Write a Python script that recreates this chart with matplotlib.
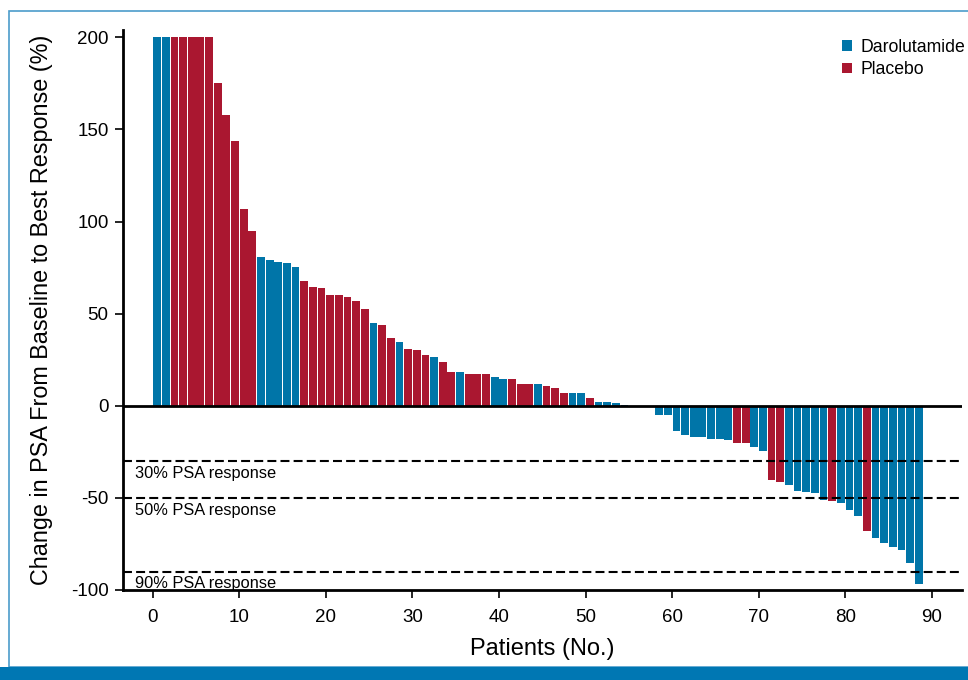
import matplotlib
matplotlib.use("Agg")
import matplotlib.pyplot as plt
from matplotlib.patches import Patch, Rectangle
import numpy as np

# ---- data ----
values = [200, 200, 200, 200, 200, 200, 200, 175.4, 158, 144, 107, 94.7,
          81, 79, 78, 77.3, 75.2, 68, 64.3, 63.8, 60, 60, 58.9, 56.7, 52.4,
          44.8, 43.7, 36.6, 34.4, 31.1, 30.5, 27.8, 26.7, 24, 18.6, 18.1,
          17, 17, 17, 15.9, 14.8, 14.3, 12.1, 12.1, 11.6, 10.5, 9.9, 7.2,
          6.7, 6.7, 4.0, 1.8, 1.8, 1.3, 0.7, 0, 0, 0,
          -5.1, -5.1, -13.7, -15.9, -17, -17, -18.1, -18.1, -18.6, -20.2,
          -20.2, -22.4, -24.6, -40.3, -41.4, -43, -46.3, -46.8, -47.3,
          -51.1, -51.7, -52.8, -56.5, -59.8, -67.9, -71.7, -74.4, -76.6,
          -78.2, -85.3, -96.7]
groups = (["D"] * 2 + ["P"] * 10 + ["D"] * 5 + ["P"] * 8 + ["D"] + ["P"] * 2
          + ["D"] + ["P"] * 3 + ["D"] + ["P"] * 2 + ["D"] + ["P"] * 3
          + ["D"] * 2 + ["P"] * 3 + ["D"] + ["P"] * 3 + ["D"] * 2 + ["P"]
          + ["D"] * 7 + ["D"] * 9 + ["P"] * 2 + ["D"] * 2 + ["P"] * 2
          + ["D"] * 5 + ["P"] + ["D"] * 3 + ["P"] + ["D"] * 6)
group_names = {"D": "Darolutamide", "P": "Placebo"}
thresholds = [-30, -50, -90]
threshold_labels = ["30% PSA response", "50% PSA response", "90% PSA response"]
xticks = [0, 10, 20, 30, 40, 50, 60, 70, 80, 90]
yticks = [200, 150, 100, 50, 0, -50, -100]

BLUE = "#0075A8"
RED = "#AA1730"
colors = {"D": BLUE, "P": RED}

plt.rcParams["font.family"] = ["Liberation Sans", "DejaVu Sans"]
plt.rcParams["axes.unicode_minus"] = False

fig = plt.figure(figsize=(9.68, 6.8), dpi=100)
ax = fig.add_axes([122.5 / 968, 90 / 680, (962 - 122.5) / 968, (590 - 30) / 680])

x = np.arange(len(values)) + 0.5
ax.bar(x, values, width=0.9, color=[colors[g] for g in groups], zorder=2)

ax.axhline(0, color="black", lw=2, zorder=3)
for t, lab in zip(thresholds, threshold_labels):
    ax.axhline(t, color="black", lw=1.5, ls=(0, (4.3, 2)), zorder=4)
    ax.text(-2.1, t - 2.5, lab, fontsize=11.8, va="top", ha="left", zorder=5)

ax.set_xlim(-3.5, 93.5)
ax.set_ylim(-100, 204)
ax.set_xticks(xticks)
ax.set_yticks(yticks)
ax.spines["top"].set_visible(False)
ax.spines["right"].set_visible(False)
ax.spines["left"].set_linewidth(2)
ax.spines["bottom"].set_linewidth(2)
ax.tick_params(axis="both", direction="out", length=6, width=1.2)
ax.tick_params(axis="y", labelsize=13.5, pad=4)
ax.tick_params(axis="x", labelsize=13.5, pad=8)

ax.set_ylabel("Change in PSA From Baseline to Best Response (%)", fontsize=16.8, labelpad=13)
ax.set_xlabel("Patients (No.)", fontsize=17, labelpad=8)

handles = [Patch(facecolor=colors[k], label=group_names[k]) for k in ["D", "P"]]
ax.legend(handles=handles, loc="upper right", bbox_to_anchor=(1.0 + 12 / 840, 1.0),
          frameon=False, fontsize=12.7, handlelength=0.55, handleheight=0.55,
          handletextpad=0.5, labelspacing=0.3, borderaxespad=0.1)

# frame and bottom band
fig.patches.append(Rectangle((9 / 968, 13 / 680), 1.2, 1 - 13 / 680 - 11 / 680,
                             transform=fig.transFigure, fill=False,
                             edgecolor="#4B9CCB", lw=1.2, zorder=0))
fig.patches.append(Rectangle((0, 0), 1, 13 / 680, transform=fig.transFigure,
                             facecolor="#0077B3", edgecolor="none", zorder=1))

fig.savefig("out.png", dpi=100)
